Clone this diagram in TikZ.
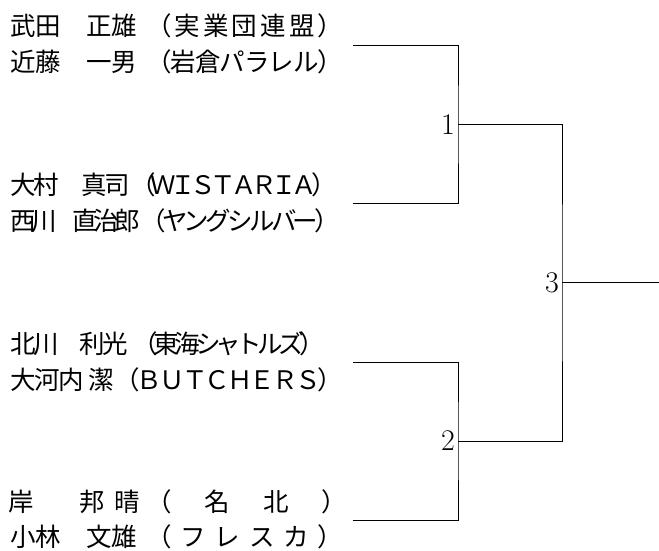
\documentclass[tikz,border=0pt]{standalone}
\usepackage{fontspec}
\newfontfamily\jpfont{Noto Sans CJK JP}
\makeatletter
\newcommand\spread[2]{\makebox[#1][s]{\def\sp@sep{}\@tfor\sp@c:=#2\do{\sp@sep\sp@c\def\sp@sep{\hskip 0pt plus 1fil minus 1fil}}}}
\makeatother
\tikzset{player/.style={anchor=west,inner sep=0pt,font=\jpfont\fontsize{25.5}{25.5}\selectfont},
  matchno/.style={anchor=east,inner sep=0pt,font=\fontsize{30}{30}\selectfont},
  bracket/.style={line width=0.9pt}}

\begin{document}
\begin{tikzpicture}[x=1pt,y=-1pt]
\useasboundingbox (0,0) rectangle (659,550);
\node[player] (p1) at (10,26) {\spread{127pt}{武田　正雄}\hspace{9pt}\spread{197pt}{（実業団連盟）}};
\node[player] (p2) at (10,62) {\spread{127pt}{近藤　一男}\hspace{9pt}\spread{197pt}{（岩倉パラレル）}};
\node[player] (p3) at (10,185) {\spread{120pt}{大村　真司}\spread{207pt}{（ＷＩＳＴＡＲＩＡ）}};
\node[player] (p4) at (10,221) {\spread{130pt}{西川　直治郎}\spread{200pt}{（ヤングシルバー）}};
\node[player] (p5) at (10,344) {\spread{118pt}{北川　利光}\hspace{4pt}\spread{193pt}{（東海シャトルズ）}};
\node[player] (p6) at (10,380) {\spread{104pt}{大河内{\hspace{8pt}}潔}\spread{229pt}{（ＢＵＴＣＨＥＲＳ）}};
\node[player] (p7) at (8,502) {\spread{132pt}{岸　邦晴}\hspace{6pt}\spread{201pt}{（　名　北　）}};
\node[player] (p8) at (10,537) {\spread{127pt}{小林　文雄}\hspace{9pt}\spread{197pt}{（フレスカ）}};
\coordinate (e1) at (353,45);
\coordinate (e2) at (353,203);
\coordinate (e3) at (353,362);
\coordinate (e4) at (353,520);
\coordinate (j1) at (458,124.5);
\coordinate (j2) at (458,441);
\coordinate (j3) at (562,282.75);
\coordinate (win) at (659,282.75);
\node[matchno] (m1) at (455,124.5) {1};
\node[matchno] (m2) at (455,441) {2};
\node[matchno] (m3) at (559,282.75) {3};
\draw[bracket] (e1) -| (j1) |- (e2);
\draw[bracket] (e3) -| (j2) |- (e4);
\draw[bracket] (j1) -| (j3) |- (j2);
\draw[bracket] (j3) -- (win);
\end{tikzpicture}
\end{document}
